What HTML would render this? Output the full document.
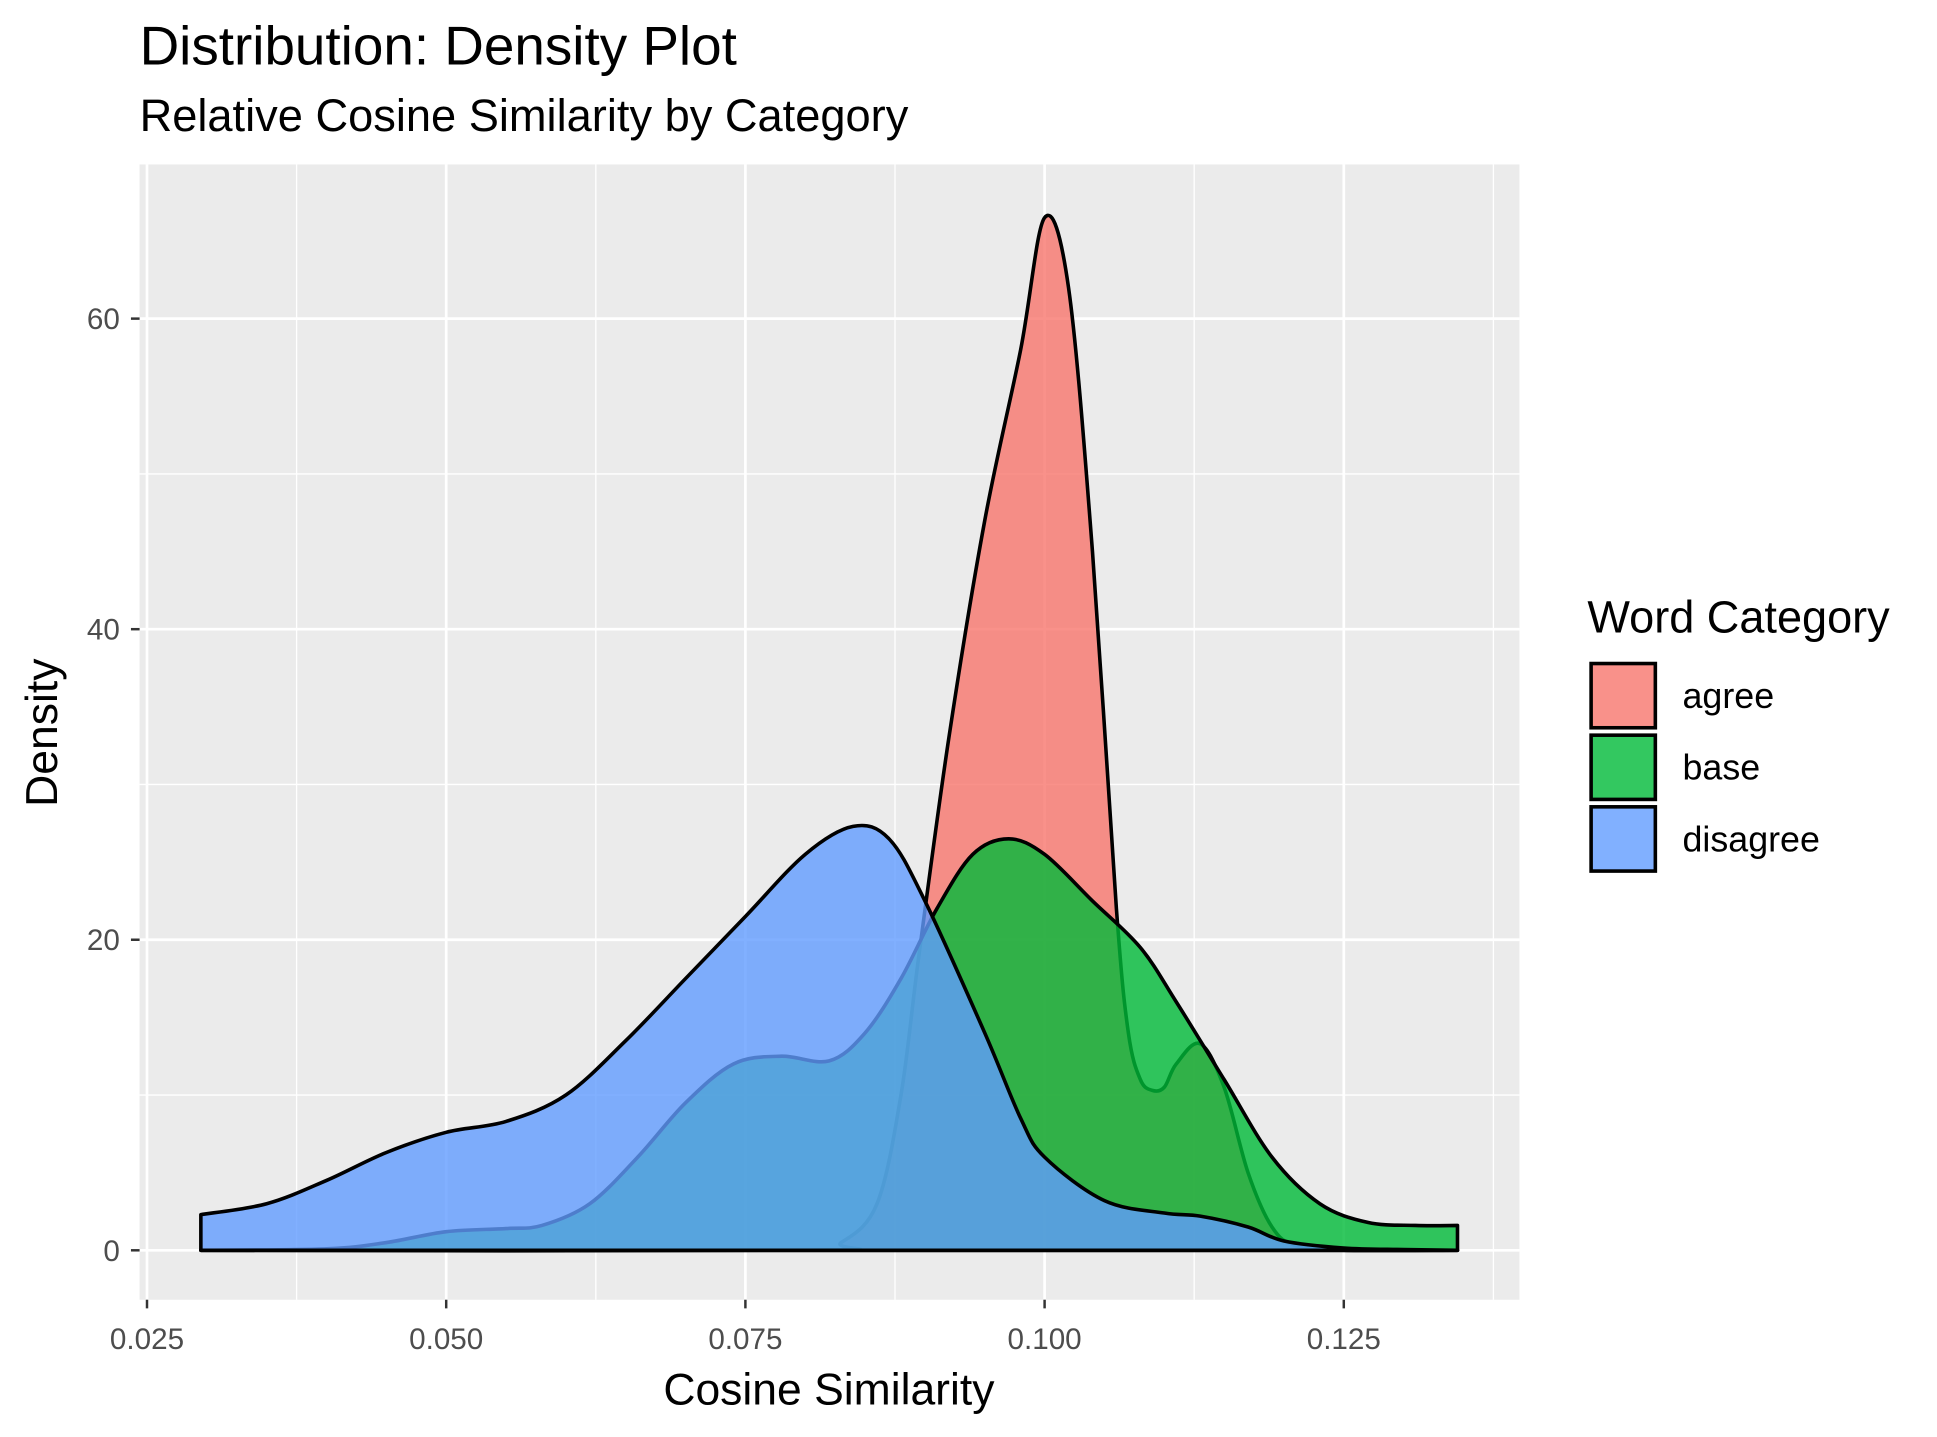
<!DOCTYPE html>
<html><head><meta charset="utf-8"><style>
html,body{margin:0;padding:0;background:#fff;}
svg{display:block;font-family:"Liberation Sans",Arial,sans-serif;}
</style></head><body>
<svg id="chart" width="1937" height="1437" viewBox="0 0 1568 1163" xmlns="http://www.w3.org/2000/svg">
<text x="113" y="52" font-size="44.4" fill="#000">Distribution: Density Plot</text>
<text x="113" y="106" font-size="36.6" fill="#000">Relative Cosine Similarity by Category</text>
<rect x="113" y="133" width="1117" height="919" fill="#EBEBEB"/>
<g id="grid"></g>
<g id="series"></g>
<g id="axes"></g>
<text x="671" y="1137" font-size="36" text-anchor="middle" fill="#000">Cosine Similarity</text>
<text transform="translate(46,593) rotate(-90)" font-size="36" text-anchor="middle" fill="#000">Density</text>
<g>
<text x="1285" y="512" font-size="36.5" fill="#000">Word Category</text>
<g id="legend-keys"></g>
</g>
</svg>
<script>
const categories = ["agree", "base", "disagree"];
const fillColors = ["#F8766D", "#00BA38", "#619CFF"];
const xTicks = [0.025, 0.050, 0.075, 0.100, 0.125];
const xTickLabels = ["0.025", "0.050", "0.075", "0.100", "0.125"];
const yTicks = [0, 20, 40, 60];
const yTickLabels = ["0", "20", "40", "60"];
const xMinor = [0.0375, 0.0625, 0.0875, 0.1125, 0.1375];
const yMinor = [10, 30, 50];

const agreeX = [0.0295,0.080,0.083,0.086,0.088,0.0895,0.092,0.095,0.098,0.100,0.102,0.104,0.106,0.107,0.108,0.109,0.110,0.111,0.113,0.115,0.117,0.119,0.121,0.125,0.1345];
const agreeY = [0,0,0.5,3,10,19,33,47,58,66.5,62,45,22,14,11,10.3,10.5,12,13.3,10.5,5,1.5,0.3,0,0];
const baseX = [0.0295,0.040,0.045,0.050,0.055,0.058,0.062,0.066,0.070,0.074,0.078,0.082,0.085,0.088,0.091,0.094,0.097,0.100,0.104,0.108,0.111,0.115,0.119,0.123,0.127,0.131,0.1345];
const baseY = [0,0.1,0.5,1.2,1.4,1.6,3,6,9.5,12,12.5,12.2,14,17.5,22,25.5,26.5,25.5,22.5,19.5,16,11,6,3,1.8,1.6,1.6];
const disagreeX = [0.0295,0.035,0.040,0.045,0.050,0.055,0.060,0.065,0.070,0.075,0.080,0.084,0.087,0.090,0.095,0.098,0.100,0.105,0.110,0.113,0.117,0.120,0.125,0.130,0.1345];
const disagreeY = [2.3,3,4.5,6.3,7.6,8.3,10,13.5,17.5,21.5,25.5,27.3,26.5,22.5,14,8.5,6,3.2,2.4,2.2,1.5,0.6,0.15,0.05,0];

const NS = "http://www.w3.org/2000/svg";
const X0 = 119, XPX = 242.2 / 0.025;
const Y0 = 1012, YPX = 12.57;
function sx(v){ return X0 + (v - 0.025) * XPX; }
function sy(v){ return Y0 - v * YPX; }
function mk(tag, attrs, parent){
  const e = document.createElementNS(NS, tag);
  for (const k in attrs) e.setAttribute(k, attrs[k]);
  parent.appendChild(e);
  return e;
}
const grid = document.getElementById('grid');
xMinor.forEach(v => {
  const l = mk('line', {x1:sx(v), x2:sx(v), y1:133, y2:1052, stroke:'#fff', 'stroke-width':1.1}, grid);
  
  
});
yMinor.forEach(v => {
  const l = mk('line', {x1:113, x2:1230, y1:sy(v), y2:sy(v), stroke:'#fff', 'stroke-width':1.1}, grid);
  
  
});
xTicks.forEach(v => {
  const l = mk('line', {x1:sx(v), x2:sx(v), y1:133, y2:1052, stroke:'#fff', 'stroke-width':2.2}, grid);
  
  
});
yTicks.forEach(v => {
  const l = mk('line', {x1:113, x2:1230, y1:sy(v), y2:sy(v), stroke:'#fff', 'stroke-width':2.2}, grid);
  
  
});

function smoothPath(xs, ys){
  const p = xs.map((x,i)=>[sx(x), sy(ys[i])]);
  let d = `M${sx(xs[0])},${sy(0)} L${p[0][0]},${p[0][1]}`;
  for (let i=0;i<p.length-1;i++){
    const p0 = p[Math.max(0,i-1)], p1 = p[i], p2 = p[i+1], p3 = p[Math.min(p.length-1,i+2)];
    const c1 = [p1[0]+(p2[0]-p0[0])/6, p1[1]+(p2[1]-p0[1])/6];
    const c2 = [p2[0]-(p3[0]-p1[0])/6, p2[1]-(p3[1]-p1[1])/6];
    d += ` C${c1[0]},${c1[1]} ${c2[0]},${c2[1]} ${p2[0]},${p2[1]}`;
  }
  d += ` L${sx(xs[xs.length-1])},${sy(0)} Z`;
  return d;
}
const series = document.getElementById('series');
const allX = [agreeX, baseX, disagreeX], allY = [agreeY, baseY, disagreeY];
categories.forEach((c,i) => {
  const path = mk('path', {d: smoothPath(allX[i], allY[i]), fill: fillColors[i], 'fill-opacity': 0.8, stroke:'#000', 'stroke-width':2.9, 'stroke-linejoin':'round'}, series);
  
  
});

const axes = document.getElementById('axes');
xTicks.forEach((v,i) => {
  const t = mk('line', {x1:sx(v), x2:sx(v), y1:1052, y2:1059, stroke:'#333', 'stroke-width':2}, axes);
  
  
  const l = mk('text', {x:sx(v), y:1092, 'font-size':24, 'text-anchor':'middle', fill:'#4D4D4D'}, axes);
  l.textContent = xTickLabels[i];
  
  
});
yTicks.forEach((v,i) => {
  const t = mk('line', {x1:106, x2:113, y1:sy(v), y2:sy(v), stroke:'#333', 'stroke-width':2}, axes);
  
  
  const l = mk('text', {x:97, y:sy(v)+8.5, 'font-size':24, 'text-anchor':'end', fill:'#4D4D4D'}, axes);
  l.textContent = yTickLabels[i];
  
  
});

const lk = document.getElementById('legend-keys');
categories.forEach((c,i) => {
  const y = 536 + i*58;
  const r = mk('rect', {x:1288, y:y+1, width:52, height:52, fill:fillColors[i], 'fill-opacity':0.8, stroke:'#000', 'stroke-width':2.9}, lk);
  
  
  const t = mk('text', {x:1362, y:y+37, 'font-size':29, fill:'#000'}, lk);
  t.textContent = c;
  
  
});
</script>
</body></html>
